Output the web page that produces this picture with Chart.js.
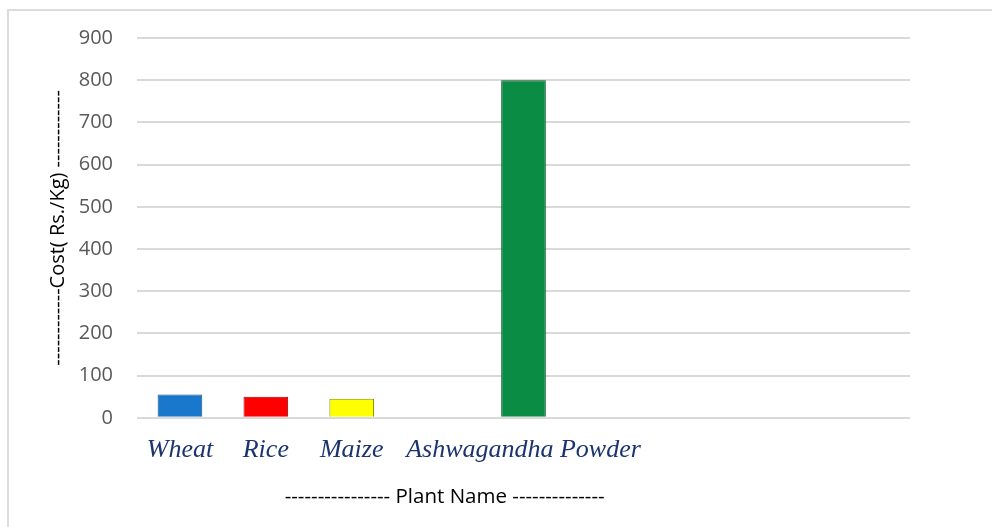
<!DOCTYPE html>
<html>
<head>
<meta charset="utf-8">
<script src="https://cdn.jsdelivr.net/npm/chart.js@4"></script>
<style>
  html, body { margin: 0; padding: 0; background: #fff; }
  #wrap { position: relative; width: 992px; height: 527px; }
  #frame { position: absolute; left: 7px; top: 9px; right: 0; bottom: 0; border-top: 2px solid #dcdcdc; border-left: 2px solid #dcdcdc; }
  canvas { position: absolute; left: 0; top: 0; }
</style>
</head>
<body>
<div id="wrap">
  <div id="frame"></div>
  <canvas id="chart" width="992" height="527"></canvas>
</div>
<script>
// chart data
const categories = ['Wheat', 'Rice', 'Maize', '', 'Ashwagandha Powder', '', '', '', ''];
const costValues = [55, 50, 45, null, 800, null, null, null, null];
const barColors = ['#1a78cc', '#ff0000', '#ffff00', '#999999', '#0b8c44', '#999999', '#999999', '#999999', '#999999'];
const barBorders = ['#0e4f8a', '#9c0000', '#8a8a00', '#666666', '#05582a', '#666666', '#666666', '#666666', '#666666'];
const yTitle = '------------Cost( Rs./Kg) ------------';
const xTitle = '---------------- Plant Name --------------';

// x axis title is drawn by hand, it sits left of the plot centre in the picture
const xTitlePlugin = {
    id: 'xTitle',
    afterDraw(chart) {
        const area = chart.chartArea;
        const ctx = chart.ctx;
        ctx.save();
        ctx.font = '20.5px "Open Sans"';
        ctx.fillStyle = '#000';
        ctx.textAlign = 'center';
        ctx.textBaseline = 'middle';
        ctx.fillText(xTitle, area.left + (area.right - area.left) * 0.398, 497);
        ctx.restore();
    }
};

const ctx = document.getElementById('chart').getContext('2d');
new Chart(ctx, {
    type: 'bar',
    data: {
        labels: categories,
        datasets: [{
            data: costValues,
            backgroundColor: barColors,
            borderColor: barBorders,
            borderWidth: 1,
            categoryPercentage: 1,
            barPercentage: 0.52
        }]
    },
    options: {
        responsive: false,
        animation: false,
        layout: { padding: { left: 42, right: 82, top: 38, bottom: 44 } },
        plugins: {
            legend: { display: false },
            tooltip: { enabled: false }
        },
        scales: {
            x: {
                grid: { display: false, drawTicks: false },
                border: { display: false },
                ticks: {
                    autoSkip: false,
                    maxRotation: 0,
                    minRotation: 0,
                    padding: 17,
                    color: '#1b3470',
                    font: { family: '"Liberation Serif", "Times New Roman", serif', style: 'italic', size: 26 }
                }
            },
            y: {
                min: 0,
                max: 900,
                afterFit: s => { s.width = 95; },
                grid: { color: '#d9d9d9', lineWidth: 2, drawTicks: false },
                border: { display: false },
                ticks: {
                    stepSize: 100,
                    padding: 24,
                    color: '#595959',
                    font: { family: '"Open Sans", sans-serif', size: 20 }
                },
                title: {
                    display: true,
                    text: yTitle,
                    color: '#000',
                    padding: { top: 4, bottom: 4 },
                    font: { family: '"Open Sans", sans-serif', size: 20 }
                }
            }
        }
    },
    plugins: [xTitlePlugin]
});
</script>
</body>
</html>
